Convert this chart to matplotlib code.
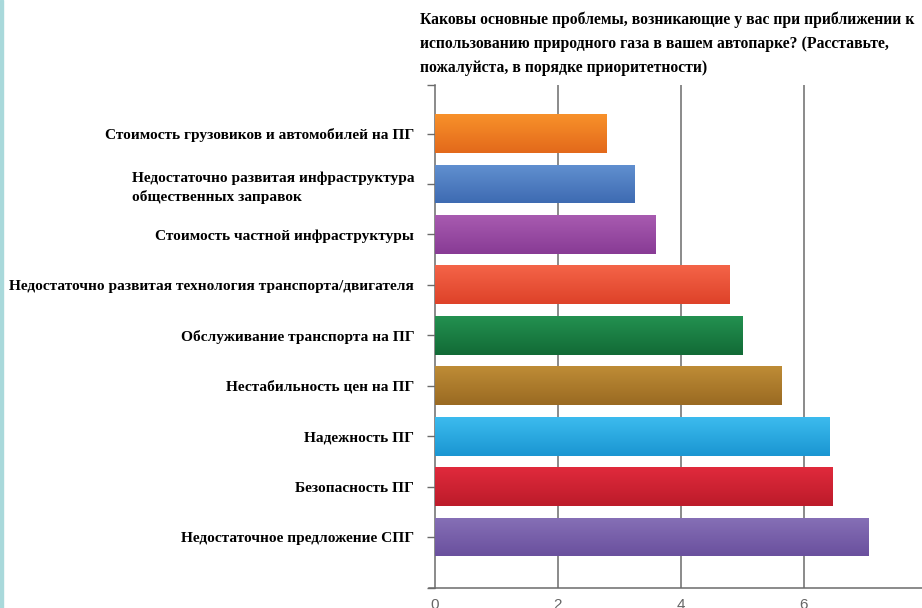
import matplotlib
matplotlib.use("Agg")
import matplotlib.pyplot as plt
import numpy as np
from matplotlib.colors import to_rgb
from matplotlib.patches import Rectangle

# проблемы при переходе автопарка на природный газ (средний ранг)
problems = [
    "Стоимость грузовиков и автомобилей на ПГ",
    "Недостаточно развитая инфраструктура\nобщественных заправок",
    "Стоимость частной инфраструктуры",
    "Недостаточно развитая технология транспорта/двигателя",
    "Обслуживание транспорта на ПГ",
    "Нестабильность цен на ПГ",
    "Надежность ПГ",
    "Безопасность ПГ",
    "Недостаточное предложение СПГ",
]
scores = [2.79, 3.25, 3.58, 4.79, 5.00, 5.64, 6.41, 6.46, 7.05]

# верхний (светлый) и нижний (тёмный) цвет градиента каждой полосы
top_colors = ["#f8912a", "#6190d0", "#a85bb0", "#f46448", "#239150",
              "#be8c36", "#3cbbee", "#e02a3c", "#8670b6"]
bottom_colors = ["#e3691b", "#3e6bb2", "#883b95", "#de4229", "#126a36",
                 "#9a6a22", "#1a96d2", "#bc1b2a", "#6a509e"]

xticks = [0, 2, 4, 6]

title = ("Каковы основные проблемы, возникающие у вас при приближении к\n"
         "использованию природного газа в вашем автопарке? (Расставьте,\n"
         "пожалуйста, в порядке приоритетности)")

fig = plt.figure(figsize=(9.22, 6.08), dpi=100)
ax = fig.add_axes([0.4718, 0.0329, 0.5282, 0.8273])

ypos = np.arange(len(problems))
bars = ax.barh(ypos, scores, height=0.77, color=bottom_colors, zorder=3)

# заливка полос вертикальным градиентом
for bar, c1, c2 in zip(bars, top_colors, bottom_colors):
    x0, y0 = bar.get_x(), bar.get_y()
    w, h = bar.get_width(), bar.get_height()
    t = np.linspace(0, 1, 64)[:, None, None]
    grad = (1 - t) * np.array(to_rgb(c1)) + t * np.array(to_rgb(c2))
    im = ax.imshow(grad, extent=(x0, x0 + w, y0 + h, y0), origin="upper",
                   aspect="auto", zorder=4, interpolation="bilinear")
    im.set_clip_path(bar)

ax.set_xlim(0, 7.92)
ax.set_ylim(9.01, -0.962)

for x in xticks[1:]:
    ax.axvline(x, color="#6b6b6b", lw=1.1, zorder=1)

for side in ["top", "right", "bottom"]:
    ax.spines[side].set_visible(False)
ax.spines["left"].set_color("#6b6b6b")
ax.spines["left"].set_linewidth(1.1)

# ось X чуть выступает влево за ось Y
ax.plot([-0.012, 1.0], [0, 0], transform=ax.transAxes, color="#6b6b6b",
        lw=1.1, clip_on=False, zorder=5)

ax.set_xticks(xticks)
ax.set_xticklabels([str(v) for v in xticks])
ax.tick_params(axis="x", length=0, pad=7, labelsize=11, labelcolor="#666666")
for lbl in ax.get_xticklabels():
    lbl.set_family("Liberation Sans")

ax.set_yticks(ypos)
ax.set_yticklabels(problems, fontsize=11.1, fontweight="bold",
                   family="Liberation Serif", multialignment="left",
                   linespacing=1.45)
ax.set_yticks([-0.962, 9.01], minor=True)
ax.tick_params(axis="y", which="both", length=6, width=1, color="#6b6b6b", pad=9)

fig.text(0.4555, 0.981, title, ha="left", va="top", fontsize=11.3,
         fontweight="bold", family="Liberation Serif", linespacing=1.68)

# светло-бирюзовая полоса по левому краю
fig.patches.append(Rectangle((0, 0), 3 / 922, 1, transform=fig.transFigure,
                             color="#a9d9db", zorder=0))

fig.savefig("out.png", dpi=100)
